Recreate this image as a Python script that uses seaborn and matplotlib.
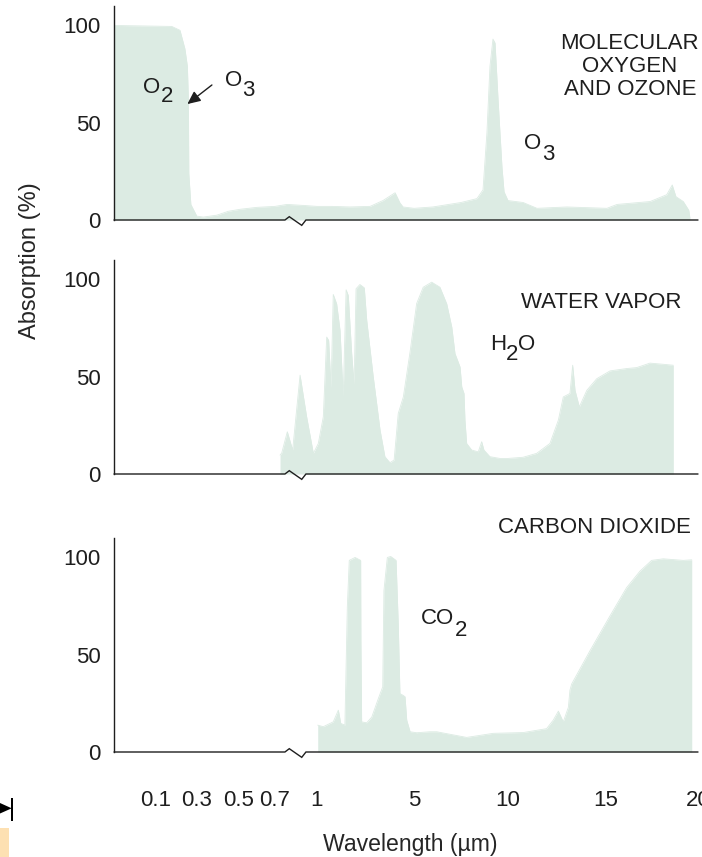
import numpy as np
import matplotlib
matplotlib.use("Agg")
import matplotlib.pyplot as plt
from matplotlib.patches import Polygon, Rectangle
import seaborn as sns

# ---- absorption spectra: wavelength (µm) vs absorption (%) ----
o2o3_wavelength = [0.0, 0.177, 0.217, 0.241, 0.253, 0.258, 0.260, 0.270, 0.299, 0.33,
                   0.395, 0.45, 0.506, 0.60, 0.70, 0.786, 0.90, 1.0, 1.6, 2.36,
                   3.19, 3.72, 4.22, 4.42, 4.55, 5.0, 6.0, 7.5, 8.35, 8.67,
                   8.88, 9.04, 9.20, 9.31, 9.47, 9.68, 9.79, 10.0, 10.77, 11.48,
                   13.0, 15.05, 15.6, 17.4, 18.3, 18.6, 18.8, 19.2, 19.5, 19.56]
o2o3_absorption = [100, 99.5, 97.5, 88, 79, 62, 24, 8, 2, 1.5,
                   2.5, 4.5, 5.5, 6.5, 7, 8, 7.5, 7, 7, 6.7,
                   7, 10, 14, 8.8, 6.7, 6, 6.7, 9, 11, 15.5,
                   45, 79, 93, 91, 62, 27, 14.5, 10, 9, 6,
                   6.7, 6, 8, 9.5, 13, 18, 12, 9.5, 5, 1]

h2o_wavelength = [0.736, 0.748, 0.788, 0.826, 0.879, 0.926, 0.974, 1.054, 1.26, 1.40,
                  1.48, 1.58, 1.67, 1.81, 1.95, 2.08, 2.20, 2.29, 2.43, 2.53,
                  2.61, 2.77, 2.95, 3.05, 3.32, 3.60, 3.80, 4.01, 4.18, 4.35,
                  4.56, 4.84, 5.14, 5.49, 5.94, 6.38, 6.74, 7.01, 7.18, 7.45,
                  7.54, 7.66, 7.71, 7.80, 8.07, 8.42, 8.60, 8.72, 9.04, 9.57,
                  10.0, 10.77, 11.46, 12.14, 12.57, 12.82, 13.16, 13.30, 13.42, 13.64,
                  14.02, 14.53, 15.22, 16.12, 16.67, 17.39, 18.11, 18.66]
h2o_absorption = [9.7, 10.8, 21.7, 12.3, 50.8, 29.4, 10.6, 15.7, 29.4, 70.4,
                  68.7, 44, 92.3, 87.5, 73.8, 39.6, 94.7, 91.8, 61.9, 46,
                  95.2, 97.4, 95.7, 79, 49.9, 22.6, 8.9, 5.8, 7.2, 31.1,
                  39.6, 63, 87.6, 96, 98.6, 96, 87.5, 75.5, 61.9, 55,
                  44.8, 41.4, 27.7, 15.7, 12.3, 11.4, 16.6, 12.3, 8.9, 8,
                  8, 8.6, 10.6, 15.7, 27.7, 39.6, 41.4, 55.9, 43, 34.5,
                  43, 49, 53, 54.2, 54.7, 57, 56.4, 55.9]

co2_wavelength = [1.03, 1.26, 1.67, 1.88, 1.98, 2.15, 2.25, 2.33, 2.57, 2.80,
                  2.81, 2.84, 3.05, 3.26, 3.53, 3.71, 3.76, 3.90, 4.04, 4.26,
                  4.35, 4.42, 4.54, 4.63, 4.70, 4.84, 5.14, 5.85, 6.21, 7.80,
                  9.22, 10.78, 11.97, 12.31, 12.57, 12.82, 13.08, 13.16, 13.25, 14.18,
                  15.22, 16.12, 16.85, 17.48, 18.11, 19.20, 19.66]
co2_absorption = [13.8, 13, 15.5, 21.5, 14.7, 13.8, 74.5, 98.5, 100, 98.5,
                  57.4, 15.5, 15, 18, 27.5, 33.5, 83, 100, 100.5, 98.5,
                  66, 30, 29.2, 28.4, 16.4, 10.4, 9.9, 10.4, 10.4, 7.5,
                  9.6, 10, 12, 16.4, 21, 15.5, 23, 31.8, 35, 52,
                  70, 84.5, 93, 98.5, 99.3, 98.5, 98.8]

x_ticks = [0.1, 0.3, 0.5, 0.7, 1, 5, 10, 15, 20]
x_tick_labels = ["0.1", "0.3", "0.5", "0.7", "1", "5", "10", "15", "20"]
y_ticks = [0, 50, 100]

# ---- broken wavelength axis: stretched UV/visible part, then the infrared ----
SCALE_WL = [0.0, 0.1, 0.3, 0.5, 0.7, 1.0, 5.0, 10.0, 15.0, 20.0]
SCALE_POS = [0, 42, 83, 125, 161, 203, 300, 394, 492, 584]


def wl_forward(x):
    return np.interp(x, SCALE_WL, SCALE_POS)


def wl_inverse(u):
    return np.interp(u, SCALE_POS, SCALE_WL)


FILL = "#dcebe3"
INK = "#1e1e1e"
FS = 16

sns.set_theme(style="white")
plt.rcParams["font.family"] = ["Liberation Sans", "DejaVu Sans"]
plt.rcParams["text.color"] = INK
plt.rcParams["xtick.color"] = INK
plt.rcParams["ytick.color"] = INK

W, H = 702, 857
fig = plt.figure(figsize=(W / 100, H / 100), dpi=100)

left, width, height = 114 / W, 584 / W, 214 / H
bottoms = [1 - 220 / H, 1 - 474 / H, 1 - 752 / H]
axes = [fig.add_axes([left, b, width, height]) for b in bottoms]

panels = [
    (o2o3_wavelength, o2o3_absorption),
    (h2o_wavelength, h2o_absorption),
    (co2_wavelength, co2_absorption),
]

for i, (ax, (wl, ab)) in enumerate(zip(axes, panels)):
    ax.set_xscale("function", functions=(wl_forward, wl_inverse))
    ax.fill_between(wl, 0, ab, color=FILL, lw=0, zorder=1)
    sns.lineplot(x=wl, y=ab, ax=ax, color=FILL, lw=0.6, zorder=1)
    ax.set_xlim(0, 20)
    ax.set_ylim(0, 110)
    ax.set_xticks(x_ticks)
    ax.set_yticks(y_ticks)
    ax.set_yticklabels([str(v) for v in y_ticks])
    ax.tick_params(axis="both", direction="in", length=12.2, width=1.0,
                   labelsize=FS, pad=9.7, colors=INK)
    if i < 2:
        ax.tick_params(axis="x", labelbottom=False)
    else:
        ax.set_xticklabels(x_tick_labels)
        ax.tick_params(axis="x", pad=27.5)
    for side in ("top", "right", "bottom"):
        ax.spines[side].set_visible(False)
    ax.spines["left"].set_color(INK)
    ax.spines["left"].set_linewidth(1.0)
    ax.set_xlabel("")
    ax.set_ylabel("")
    ax.patch.set_alpha(0)
    # baseline with the break symbol between 0.7 and 1 µm
    ax.plot([0, 0.771, 0.802, 0.891, 0.921, 20], [0, 0, 0.0155, -0.025, 0, 0],
            transform=ax.get_xaxis_transform(), color=INK, lw=1.0,
            clip_on=False, zorder=5, solid_joinstyle="miter")


def formula(ax, x, y, base, sub, y_sub, gap=0.5, tail=None):
    main = ax.text(x, y, base, ha="left", va="baseline", fontsize=FS)
    s = ax.annotate(sub, xy=(1, y_sub), xycoords=(main, "data"),
                    xytext=(gap, 0), textcoords="offset points",
                    ha="left", va="baseline", fontsize=FS)
    if tail:
        ax.annotate(tail, xy=(1, y), xycoords=(s, "data"),
                    xytext=(0, 0), textcoords="offset points",
                    ha="left", va="baseline", fontsize=FS)


ax1, ax2, ax3 = axes

# molecular oxygen and ozone
formula(ax1, 0.069, 65.5, "O", "2", 60.6, gap=0.3)
formula(ax1, 0.433, 68.9, "O", "3", 63.7, gap=0.3)
ax1.annotate("", xy=(0.253, 59.6), xytext=(0.371, 69.4),
             arrowprops=dict(arrowstyle="-|>,head_length=0.65,head_width=0.3",
                             color=INK, lw=1.0, mutation_scale=12,
                             shrinkA=0, shrinkB=0))
formula(ax1, 10.82, 36.3, "O", "3", 30.8, gap=0.6)
ax1.text(16.3, 95.9, "MOLECULAR\nOXYGEN\nAND OZONE", ha="center", va="top",
         multialignment="center", linespacing=1.1, fontsize=FS)

# water vapor
formula(ax2, 9.04, 63.9, "H", "2", 58.5, gap=0.0, tail="O")
ax2.text(14.74, 85.1, "WATER VAPOR", ha="center", va="baseline", fontsize=FS)

# carbon dioxide
formula(ax3, 5.36, 65.6, "CO", "2", 59.5, gap=0.8)
ax3.text(14.39, 112.8, "CARBON DIOXIDE", ha="center", va="baseline", fontsize=FS)

# shared axis titles
ax3.set_xlabel("Wavelength (µm)", fontsize=16.6)
ax3.xaxis.set_label_coords((410 - 114) / 584, -(833 - 752) / 214)
ax2.set_ylabel("Absorption (%)", fontsize=17)
ax2.yaxis.set_label_coords((41 - 114) / 584, (474 - 261) / 214)

# marker pieces at the lower-left edge of the page
fig.patches.append(Polygon([[0, 1 - 803 / H], [11.7 / W, 1 - 808.3 / H], [0, 1 - 813.5 / H]],
                           closed=True, transform=fig.transFigure, color="black", lw=0))
fig.patches.append(Rectangle((11.0 / W, 1 - 821 / H), 1.6 / W, 23 / H,
                             transform=fig.transFigure, color="black", lw=0))
fig.patches.append(Rectangle((0, 0), 9 / W, 29 / H,
                             transform=fig.transFigure, color="#fde0b2", lw=0))

fig.savefig("out.png", dpi=100)
